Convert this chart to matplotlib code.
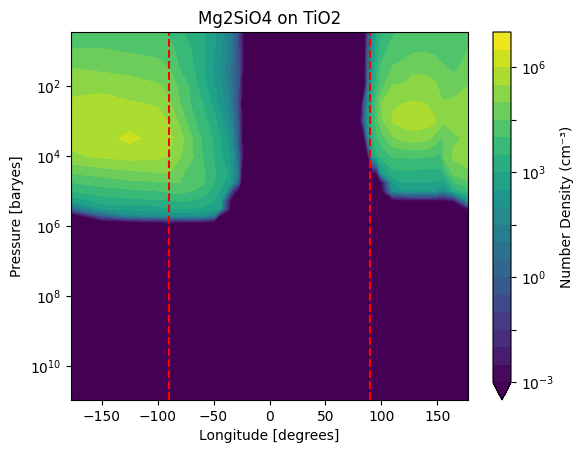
"""Mg2SiO4 number density on a longitude / pressure slice"""

import numpy as np
import matplotlib
matplotlib.use('Agg')
import matplotlib.pyplot as plt

# longitudes of the columns, degrees
lon_west = [-177.5, -150, -125, -100, -90, -80, -70, -60, -50, -44, -38, -33, -28, -25, -22]
lon_east = [78, 82, 85, 88, 92, 96, 100, 110, 120, 129, 140, 148, 153, 156, 165, 177.5]

# log10 of the pressure of each row, baryes
log_p = [0.4, 1.0, 1.5, 2.0, 2.5, 3.0, 3.5, 4.0, 4.5, 4.75, 5.0, 5.3, 5.5, 5.7, 5.9, 6.1, 11.2]

# log10 number density, one list per pressure
west = [
    [4.1, 4.1, 4.1, 4.1, 3.9, 3.6, 3.3, 3.1, 2.6, 2.2, 1.6, 0.8, -0.8, -2.2, -4],
    [4.55, 4.55, 4.45, 4.35, 4.2, 3.85, 3.5, 3.1, 2.6, 2.1, 1.6, 0.8, -0.6, -2.2, -4],
    [5.0, 4.9, 4.85, 4.7, 4.5, 3.95, 3.6, 3.1, 2.4, 1.9, 1.3, 0.6, -0.5, -2.2, -4],
    [5.3, 5.35, 5.2, 5.05, 4.85, 4.35, 3.9, 3.2, 2.6, 2.1, 1.5, 0.6, -0.5, -2.4, -4],
    [5.6, 5.7, 5.55, 5.45, 5.1, 4.5, 3.95, 3.5, 2.9, 2.3, 1.8, 0.8, -0.8, -3, -4],
    [5.75, 5.85, 5.8, 5.7, 5.45, 4.85, 4.2, 3.7, 3.2, 2.7, 2.1, 1.2, -0.5, -2.6, -4],
    [5.7, 5.8, 6.12, 5.8, 5.65, 5.2, 4.55, 3.9, 3.45, 3.0, 2.5, 1.8, -0.3, -2.4, -4],
    [5.4, 5.6, 5.7, 5.65, 5.5, 5.05, 4.6, 4.0, 3.5, 3.1, 2.7, 2.2, 0.2, -2, -4],
    [4.5, 4.7, 4.85, 4.95, 5.0, 4.6, 4.25, 4.15, 3.6, 3.3, 3.0, 2.2, 1, -3, -4],
    [4.0, 4.2, 4.4, 4.45, 4.5, 4.5, 4.2, 4.1, 3.5, 3.2, 2.8, 2.1, 0, -3.3, -4],
    [3.5, 3.8, 3.9, 4.0, 4.1, 4.2, 4.0, 3.8, 3.3, 2.9, 2.3, -1.5, -3.4, -4, -4],
    [2.5, 3.2, 3.3, 3.4, 3.4, 3.5, 3.4, 3.3, 3.0, 2.7, -1.5, -4, -4, -4, -4],
    [0.5, 2.6, 2.7, 2.8, 2.95, 3, 3, 2.9, 2.8, 2.5, -1.5, -4, -4, -4, -4],
    [-4, 0, 1.8, 2.0, 2.1, 2.2, 2.2, 2.2, 1.5, -3, -4, -4, -4, -4, -4],
    [-4, -4, -3.5, -3, -2.8, -2.9, -3, -3, -3.5, -4, -4, -4, -4, -4, -4],
    [-4] * 15,
    [-4] * 15,
]
east = [
    [-4, -4, -3.5, -1, 2.0, 3.0, 3.6, 3.9, 4.05, 4.2, 4.2, 4.1, 3.9, 3.95, 4.2, 4.2],
    [-4, -4, -3.5, 0, 2.4, 3.2, 3.8, 4.2, 4.3, 4.45, 4.45, 4.4, 4.3, 4.25, 4.3, 4.5],
    [-4, -4, -3.5, 0.5, 2.6, 3.4, 4.1, 4.55, 4.7, 4.9, 4.9, 4.75, 4.6, 4.55, 4.4, 4.7],
    [-4, -4, -3.5, 1, 3, 3.7, 4.3, 5.0, 5.05, 5.2, 5.15, 5.1, 4.85, 4.75, 4.8, 5.0],
    [-4, -3.5, 0, 2, 3.4, 4.3, 5.0, 5.45, 5.5, 5.55, 5.5, 5.3, 5.1, 5.05, 5.1, 5.2],
    [-4, -2.5, 0.5, 2.5, 3.5, 4.2, 4.9, 5.55, 5.7, 5.8, 5.7, 5.55, 5.2, 5.1, 5.2, 5.5],
    [-4, -4, -3, 1.5, 3.4, 3.9, 4.2, 4.9, 5.2, 5.25, 5.2, 4.8, 4.5, 4.5, 4.9, 5.1],
    [-4, -4, -4, -3, 2.8, 3.4, 3.7, 4.05, 4.05, 4.1, 4.05, 4.0, 3.9, 4.7, 5.1, 5.2],
    [-4, -4, -4, -4, -3.5, -2.5, 2.2, 3.3, 3.4, 3.35, 3.3, 3.3, 3.3, 3.6, 4.7, 4.9],
    [-4, -4, -4, -4, -4, -4, -3, 2.6, 3, 3.0, 3, 2.95, 2.9, 2.8, 4, 4.4],
    [-4, -4, -4, -4, -4, -4, -3.5, 2.0, 2.4, 2.5, 2.5, 2.5, 1.8, 1.8, 3.2, 3.8],
    [-4, -4, -4, -4, -4, -4, -4, -4, -3.6, -3.4, -3.4, -3.4, -3.4, -3.4, -3, 2.0],
    [-4, -4, -4, -4, -4, -4, -4, -4, -4, -4, -4, -4, -4, -4, -4, -2.5],
    [-4] * 16,
    [-4] * 16,
    [-4] * 16,
    [-4] * 16,
]

lon = lon_west + lon_east
density = np.hstack([np.array(west), np.array(east)])

# contour levels in log10, half a decade each
levels = np.arange(-3, 7.5, 0.5)

fig = plt.figure(figsize=(5.83, 4.55), dpi=100)
ax = fig.add_axes([71 / 583, 1 - 400 / 455, 397 / 583, 368 / 455])

cs = ax.contourf(lon, log_p, density, levels=levels, cmap='viridis', extend='min')
ax.axvline(-90, color='red', linestyle='--')
ax.axvline(90, color='red', linestyle='--')

ax.set_xlim(-177.5, 177.5)
ax.set_ylim(10.97, 0.46)
ax.set_yticks([2, 4, 6, 8, 10])
ax.set_yticklabels(['$\\mathdefault{10^{%d}}$' % p for p in [2, 4, 6, 8, 10]])
ax.set_xlabel('Longitude [degrees]')
ax.set_ylabel('Pressure [baryes]')
ax.set_title('Mg2SiO4 on TiO2')

cax = fig.add_axes([493 / 583, 1 - 400 / 455, 18 / 583, 368 / 455])
cbar = fig.colorbar(cs, cax=cax)
cbar.set_ticks([-3, -1.5, 0, 1.5, 3, 4.5, 6])
cbar.set_ticklabels(['$\\mathdefault{10^{-3}}$', '', '$\\mathdefault{10^{0}}$', '',
                     '$\\mathdefault{10^{3}}$', '', '$\\mathdefault{10^{6}}$'])
cbar.set_label('Number Density (cm⁻³)')

fig.savefig('out.png', dpi=100)
